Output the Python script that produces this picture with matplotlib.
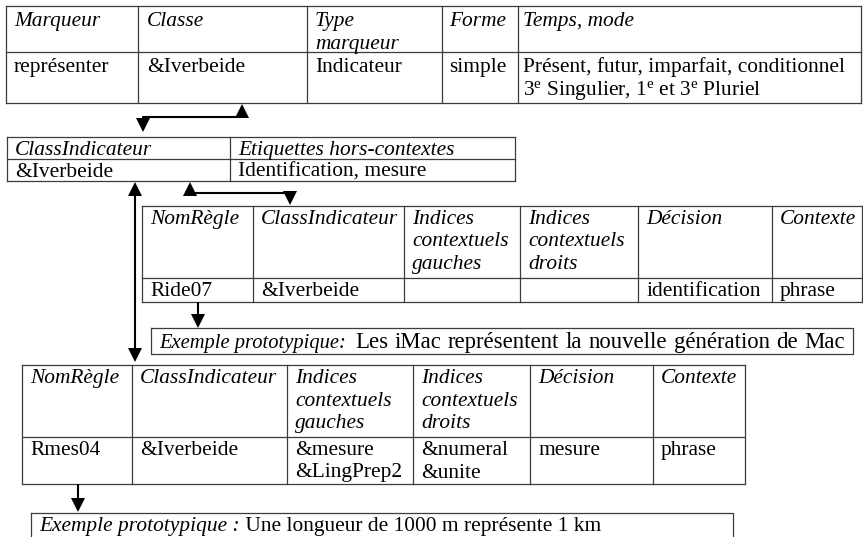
import matplotlib
matplotlib.use('Agg')
import matplotlib.pyplot as plt
from matplotlib.patches import Polygon

plt.rcParams['font.family'] = ['Liberation Serif', 'DejaVu Serif']
plt.rcParams['mathtext.fontset'] = 'custom'
plt.rcParams['mathtext.rm'] = 'Liberation Serif'
plt.rcParams['mathtext.it'] = 'Liberation Serif:italic'

# ---------------- content ----------------
marker_headers = [["Marqueur"], ["Classe"], ["Type", "marqueur"], ["Forme"], ["Temps, mode"]]
marker_row = [["représenter"], ["&Iverbeide"], ["Indicateur"], ["simple"],
              ["Présent, futur, imparfait, conditionnel",
               r"3$^{\mathrm{e}}$ Singulier, 1$^{\mathrm{e}}$ et 3$^{\mathrm{e}}$ Pluriel"]]
class_headers = [["ClassIndicateur"], ["Etiquettes hors-contextes"]]
class_row = [["&Iverbeide"], ["Identification, mesure"]]
rule_headers = [["NomRègle"], ["ClassIndicateur"], ["Indices", "contextuels", "gauches"],
                ["Indices", "contextuels", "droits"], ["Décision"], ["Contexte"]]
rule1_row = [["Ride07"], ["&Iverbeide"], [""], [""], ["identification"], ["phrase"]]
rule2_row = [["Rmes04"], ["&Iverbeide"], ["&mesure", "&LingPrep2"], ["&numeral", "&unite"],
             ["mesure"], ["phrase"]]
example_label_1 = "Exemple prototypique:"
example_text_1 = "Les iMac représentent la nouvelle génération de Mac"
example_label_2 = "Exemple prototypique :"
example_text_2 = " Une longueur de 1000 m représente 1 km"

# ---------------- layout (pixels) ----------------
W, H = 863, 537
FS = 15.4
LINE = 22.5
PAD = 8
BORDER = '#3c3c3c'

t1_cols = [6, 138, 307, 442, 518, 861]
t1_rows = [6, 52, 103]
t1_pads = [8, 9, 8, 7, 5]
t2_cols = [7, 230, 515]
t2_rows = [137, 159, 181]
t3_cols = [142, 253, 404, 520, 638, 772, 862]
t3_rows = [206, 278, 302]
t4_cols = [22, 132, 287, 413, 530, 653, 745]
t4_rows = [365, 437, 484]
box1 = (151, 853, 328, 354)
box2 = (31, 733, 513, 537.5)

fig = plt.figure(figsize=(W / 100, H / 100), dpi=100)
ax = fig.add_axes([0, 0, 1, 1])
ax.set_xlim(0, W)
ax.set_ylim(H, 0)
ax.axis('off')
renderer = fig.canvas.get_renderer()


def draw_table(cols, rows, header, body, offset=19, pads=None):
    for y in rows:
        ax.plot([cols[0], cols[-1]], [y, y], color=BORDER, lw=0.9, solid_capstyle='projecting')
    for x in cols:
        ax.plot([x, x], [rows[0], rows[-1]], color=BORDER, lw=0.9, solid_capstyle='projecting')
    for r, (cells, style) in enumerate([(header, 'italic'), (body, 'normal')]):
        for c, lines in enumerate(cells):
            pad = pads[c] if pads else PAD
            for i, s in enumerate(lines):
                if s:
                    ax.text(cols[c] + pad, rows[r] + offset + i * LINE, s, fontsize=FS,
                            style=style, va='baseline', ha='left', color='black')


def outline(box):
    x0, x1, y0, y1 = box
    ax.plot([x0, x1, x1, x0, x0], [y0, y0, y1, y1, y0], color=BORDER, lw=0.9)


def draw_box(box, label, text, offset):
    x0, x1, y0, y1 = box
    outline(box)
    t = ax.text(x0 + PAD, y0 + offset, label, fontsize=FS, style='italic',
                va='baseline', ha='left')
    w = t.get_window_extent(renderer).width
    ax.text(x0 + PAD + w, y0 + offset, text, fontsize=FS, va='baseline', ha='left')


def draw_box_spread(box, label, text, offset, label_fs, text_fs, gap, right):
    # label followed by words spread to end at `right`
    x0, x1, y0, y1 = box
    outline(box)
    t = ax.text(x0 + PAD, y0 + offset, label, fontsize=label_fs, style='italic',
                va='baseline', ha='left')
    x = x0 + PAD + t.get_window_extent(renderer).width + gap
    words = text.split(' ')
    arts = [ax.text(0, y0 + offset, wd, fontsize=text_fs, va='baseline', ha='left')
            for wd in words]
    widths = [a.get_window_extent(renderer).width for a in arts]
    space = (right - x - sum(widths)) / (len(words) - 1)
    for a, wdt in zip(arts, widths):
        a.set_x(x)
        x += wdt + space


def head(x, tip, direction, size=14, width=14):
    # direction: +1 pointing down, -1 pointing up
    base = tip - direction * size
    ax.add_patch(Polygon([[x - width / 2, base], [x + width / 2, base], [x, tip]],
                         closed=True, color='black', lw=0))


def path(xs, ys):
    ax.plot(xs, ys, color='black', lw=1.5, solid_capstyle='butt')


draw_table(t1_cols, t1_rows, marker_headers, marker_row, offset=20, pads=t1_pads)
draw_table(t2_cols, t2_rows, class_headers, class_row, offset=18)
draw_table(t3_cols, t3_rows, rule_headers, rule1_row, offset=18)
draw_table(t4_cols, t4_rows, rule_headers, rule2_row, offset=18)
draw_box_spread(box1, example_label_1, example_text_1, 20, 14.8, 16.4, 9, 845)
draw_box(box2, example_label_2, example_text_2, 18)

# connector: table 1 <-> table 2
path([242, 242, 143, 143], [110, 117, 117, 124])
head(242, 104, -1)
head(143, 132, 1)
# connector: table 2 <-> table 4
path([135, 135], [190, 354])
head(135, 182, -1)
head(135, 362, 1)
# connector: table 2 <-> table 3
path([190, 190, 290, 290], [190, 193, 193, 198])
head(190, 182, -1)
head(290, 205, 1)
# table 3 -> example 1
path([198, 198], [302, 318])
head(198, 328, 1)
# table 4 -> example 2
path([78, 78], [484, 503])
head(78, 512, 1)

fig.savefig('out.png', dpi=100, facecolor='white')
